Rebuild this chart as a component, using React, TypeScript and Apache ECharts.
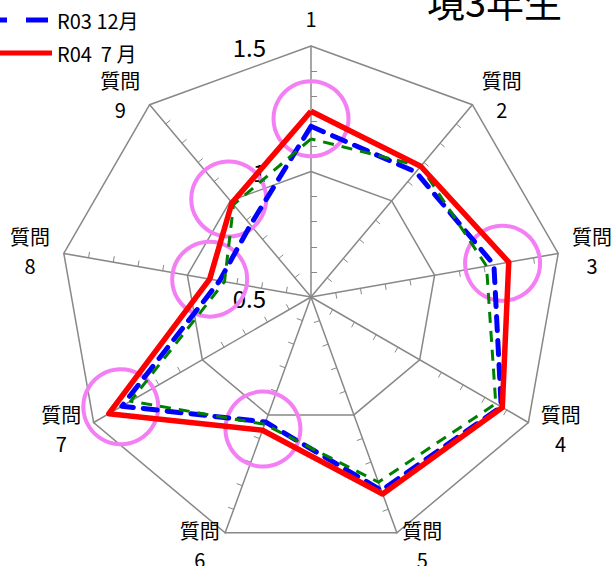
import React, { useEffect, useRef } from "react";
import * as echarts from "echarts";

const FONT = '"Noto Sans CJK JP", "Noto Sans", sans-serif';

const questions = ["質問\n1", "質問\n2", "質問\n3", "質問\n4", "質問\n5", "質問\n6", "質問\n7", "質問\n8", "質問\n9"];
// ECharts lays indicators counter-clockwise; this order makes them run clockwise like the reference
const order = [0, 8, 7, 6, 5, 4, 3, 2, 1];

const seriesNames = ["R03 7月", "R03 12月", "R04  7 月"];
const seriesColors = ["#008000", "#0000ff", "#ff0000"];
const greenValues = [1.13, 1.18, 1.21, 1.35, 1.285, 1.04, 1.33, 0.85, 0.98];
const blueValues = [1.18, 1.15, 1.24, 1.375, 1.32, 1.03, 1.37, 0.87, 0.875];
const redValues = [1.24, 1.18, 1.3, 1.38, 1.335, 1.065, 1.43, 0.91, 0.99];

// highlight circles: question index and the value along its axis where the circle sits
const circledQuestions = [0, 2, 5, 6, 7, 8];
const circleValues = [1.21, 1.275, 1.06, 1.375, 0.91, 1.01];

const axisMin = 0.5;
const axisMax = 1.5;
const titleText = "境3年生";

export default function App() {
  const ref = useRef<HTMLDivElement>(null);
  useEffect(() => {
    document.body.style.margin = "0";
    if (!ref.current) return;
    const chart = echarts.init(ref.current, null, { renderer: "svg" });
    const reorder = (arr: number[]) => order.map((i) => arr[i]);
    const indicatorCommon = {
      min: axisMin,
      max: axisMax,
      minorTick: { show: true, splitNumber: 5, length: -6, lineStyle: { color: "#888", width: 1 } },
    };
    const dashIcon = "path://M0,0h11v5H0z M30,0h22v5H30z";
    chart.setOption({
      animation: false,
      title: {
        text: titleText,
        right: 52,
        top: -19,
        padding: 0,
        textStyle: { fontSize: 38, fontWeight: "normal", color: "#000", fontFamily: FONT },
      },
      legend: {
        orient: "vertical",
        left: -8,
        top: -23,
        padding: 0,
        itemWidth: 60,
        itemHeight: 5,
        itemGap: 13,
        textStyle: { fontSize: 20, lineHeight: 20, color: "#000", fontFamily: FONT },
        data: [
          { name: seriesNames[0], icon: dashIcon, itemStyle: { color: seriesColors[0] } },
          { name: seriesNames[1], icon: dashIcon, itemStyle: { color: seriesColors[1] } },
          { name: seriesNames[2], icon: "rect", itemStyle: { color: seriesColors[2] } },
        ],
      },
      radar: {
        center: [311, 297],
        radius: 251,
        startAngle: 90,
        splitNumber: 2,
        shape: "polygon",
        nameGap: 13,
        axisName: {
          color: "#000",
          fontSize: 20,
          lineHeight: 29,
          fontFamily: FONT,
          formatter: (v: string) =>
            v
              .split("\n")
              .map((s) => `{c|${s}}`)
              .join("\n"),
          rich: {
            c: { width: 42, align: "center", fontSize: 20, lineHeight: 29, fontFamily: FONT, color: "#000" },
          },
        },
        splitLine: { lineStyle: { color: "#888", width: 1.5 } },
        splitArea: { show: false },
        axisLine: { lineStyle: { color: "#888", width: 1.5 } },
        axisTick: { show: false },
        axisLabel: { show: false },
        indicator: order.map((qi, k) => ({
          name: questions[qi],
          ...indicatorCommon,
          ...(k === 0
            ? {
                nameMoveOverlap: false,
                axisLabel: {
                  show: true,
                  color: "#000",
                  fontSize: 24,
                  fontFamily: FONT,
                  margin: 45,
                  hideOverlap: false,
                },
              }
            : {}),
        })),
      },
      series: [
        {
          type: "radar",
          name: seriesNames[1],
          symbol: "none",
          z: 2,
          itemStyle: { color: seriesColors[1] },
          data: [
            {
              name: seriesNames[1],
              value: reorder(blueValues),
              itemStyle: { color: seriesColors[1] },
              lineStyle: { color: seriesColors[1], width: 5, type: [14, 10], cap: "round" },
            },
          ],
        },
        {
          type: "radar",
          name: seriesNames[0],
          symbol: "none",
          z: 3,
          itemStyle: { color: seriesColors[0] },
          data: [
            {
              name: seriesNames[0],
              value: reorder(greenValues),
              itemStyle: { color: seriesColors[0] },
              lineStyle: { color: seriesColors[0], width: 3, type: [11, 8] },
            },
          ],
        },
        {
          type: "radar",
          name: seriesNames[2],
          symbol: "none",
          z: 4,
          itemStyle: { color: seriesColors[2] },
          data: [
            {
              name: seriesNames[2],
              value: reorder(redValues),
              itemStyle: { color: seriesColors[2] },
              lineStyle: { color: seriesColors[2], width: 5.5 },
            },
          ],
        },
      ],
    });

    try {
      const cs = (chart as any).getModel().getComponent("radar", 0).coordinateSystem;
      const circles = circledQuestions.map((q, i) => {
        const k = order.indexOf(q);
        const p = cs.dataToPoint(circleValues[i], k);
        return {
          type: "circle",
          z: 1,
          shape: { cx: p[0], cy: p[1], r: 37.5 },
          style: { fill: "none", stroke: "#f47ef4", lineWidth: 4 },
        };
      });
      chart.setOption({ graphic: circles });
    } catch (e) {
      // ignore
    }

    return () => chart.dispose();
  }, []);
  return <div ref={ref} style={{ width: 614, height: 566 }} />;
}
